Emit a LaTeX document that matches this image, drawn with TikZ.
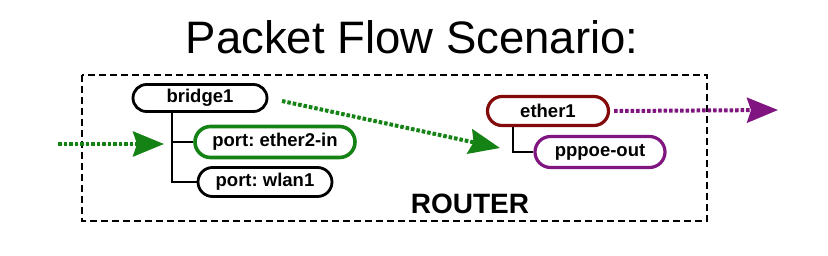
\documentclass[tikz,border=0pt]{standalone}
\usepackage{fontspec}
\setmainfont{Liberation Sans}
\usetikzlibrary{arrows.meta}
\definecolor{flowgreen}{RGB}{20,130,20}
\definecolor{flowpurple}{RGB}{128,20,128}
\definecolor{darkred}{RGB}{130,10,10}
\frenchspacing
\begin{document}
\begin{tikzpicture}[x=1pt,y=-1pt,
  iface/.style={draw=black, line width=2.8pt, font=\bfseries\fontsize{18.5}{18.5}\selectfont, inner sep=0pt, align=center},
  tree/.style={draw=black, line width=2.8pt},
  flow/.style={line width=4pt, dash pattern=on 3.5pt off 2pt, -{Stealth[length=31pt,width=25pt,inset=4pt]}}
]
\useasboundingbox (0,0) rectangle (828,255);
\node[font=\fontsize{45.5}{45.5}\selectfont, anchor=base] (title) at (412,53) {Packet Flow Scenario:};
\draw[line width=2.8pt, dash pattern=on 7pt off 4pt] (82,75) rectangle (707,221);
\node[font=\bfseries\fontsize{28}{28}\selectfont, anchor=base] (router) at (470,213) {ROUTER};

\node[iface, minimum width=134pt, minimum height=27pt, rounded corners=13.5pt] (bridge) at (200,98) {bridge1};
\node[iface, draw=flowgreen, line width=3.6pt, minimum width=160pt, minimum height=31pt, rounded corners=15.5pt] (eth2) at (275,142) {port: ether2-in};
\node[iface, minimum width=134pt, minimum height=29pt, rounded corners=14.5pt] (wlan) at (265,182) {port: wlan1};
\node[iface, draw=darkred, line width=3.2pt, minimum width=121pt, minimum height=29pt, rounded corners=14.5pt] (eth1) at (548,111) {ether1};
\node[iface, draw=flowpurple, line width=3.2pt, minimum width=130pt, minimum height=31pt, rounded corners=15.5pt] (pppoe) at (600,152) {pppoe-out};

\coordinate (bx) at (172,0);
\coordinate (ex) at (513,0);
\draw[tree] (bridge.south -| bx) -- (bx |- wlan.west) -- (wlan.west);
\draw[tree] (bx |- eth2.west) -- (eth2.west);
\draw[tree] (eth1.south -| ex) -- (ex |- pppoe.west) -- (pppoe.west);

\coordinate (inS) at (58,144);
\coordinate (inT) at (164,144);
\coordinate (diagS) at (282,101);
\coordinate (diagT) at (500,148);
\coordinate (outT) at (778,110);
\draw[flow, draw=flowgreen, fill=flowgreen] (inS) -- (inT);
\draw[flow, draw=flowgreen, fill=flowgreen] (diagS) -- (diagT);
\draw[flow, draw=flowpurple, fill=flowpurple] (eth1.east) ++(4,0) -- (outT);
\end{tikzpicture}
\end{document}
